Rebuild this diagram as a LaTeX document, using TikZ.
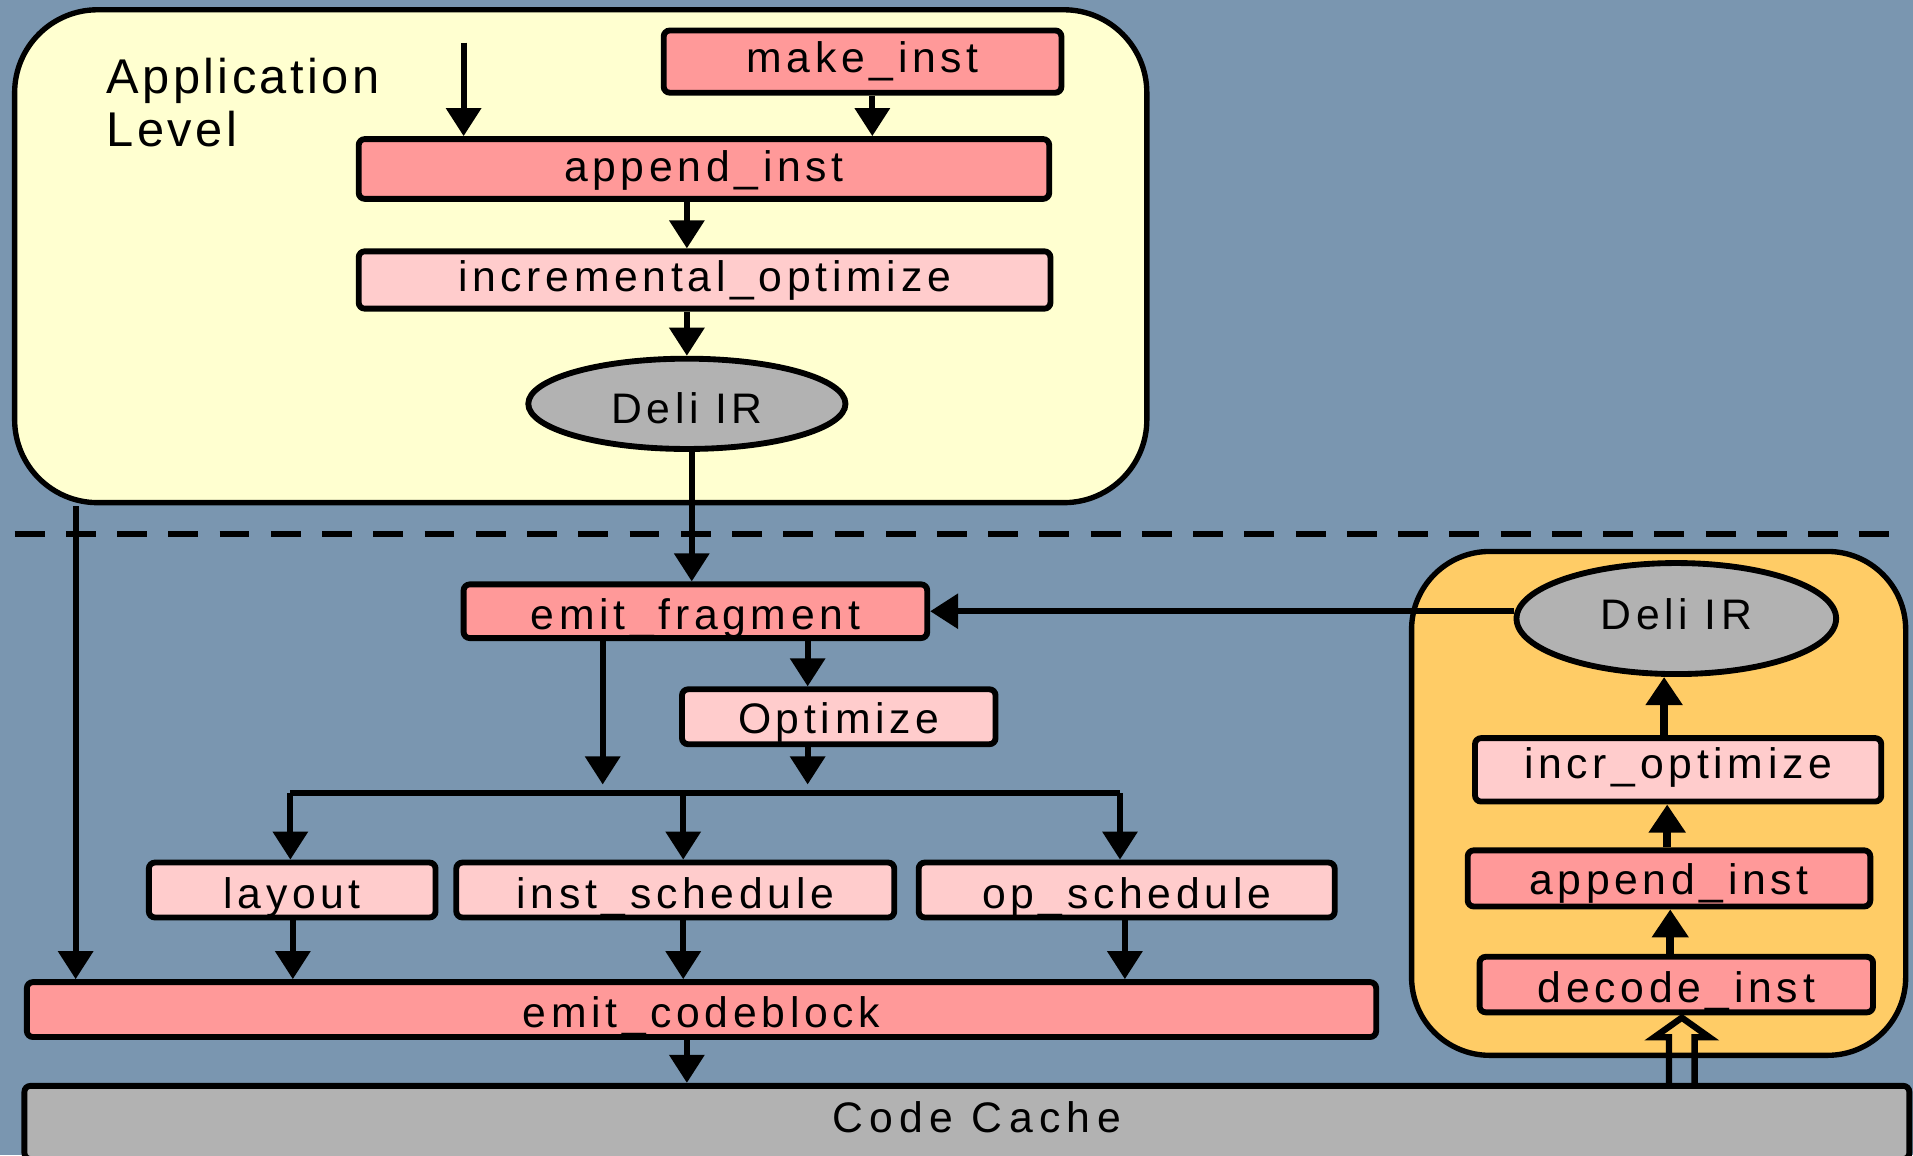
\documentclass[tikz,border=0pt]{standalone}
\usepackage{fontspec}
\setmainfont{Liberation Sans}
\newfontfamily\lblfont[LetterSpace=11]{Liberation Sans}
\newfontfamily\appfont[LetterSpace=7]{Liberation Sans}
\newfontfamily\cachefont[LetterSpace=15]{Liberation Sans}
\usetikzlibrary{arrows.meta,shapes.geometric}

\definecolor{slate}{RGB}{122,150,176}
\definecolor{paleyellow}{RGB}{255,255,208}
\definecolor{amber}{RGB}{255,204,102}
\definecolor{salmon}{RGB}{255,153,153}
\definecolor{blush}{RGB}{255,204,204}
\definecolor{irgray}{RGB}{178,178,178}

\begin{document}
\begin{tikzpicture}[x=0.5pt,y=-0.5pt,
  container/.style={draw, line width=2.2pt, inner sep=0pt},
  % baseline sits #1 px below the node centre
  lift/.style={text height=#1pt, text depth=0pt},
  fnbox/.style={draw, line width=2.4pt, rectangle, rounded corners=2.5pt, inner sep=0pt,
    font=\lblfont\fontsize{17.5}{21}\selectfont},
  hot/.style={fnbox, fill=salmon},
  soft/.style={fnbox, fill=blush},
  irnode/.style={draw, line width=2.4pt, ellipse, fill=irgray, inner sep=0pt,
    font=\lblfont\fontsize{17.5}{21}\selectfont},
  arr/.style={line width=2.45pt, -{Triangle[width=14pt,length=11.5pt]}},
  uparr/.style={line width=3.1pt, -{Triangle[width=14.5pt,length=11.5pt]}},
  plain/.style={line width=2.45pt}]

% page and background
\useasboundingbox (0,0) rectangle (1568,947);
\clip (0,0) rectangle (1568,947);
\fill[slate] (0,0) rectangle (1568,947);

% application-level region
\node[container, fill=paleyellow, rounded corners=34pt,
      minimum width=464pt, minimum height=202pt] (app) at (476,210) {};
\node[anchor=base west, align=left, inner sep=0pt,
      font=\appfont\fontsize{20}{21.75}\selectfont] (applbl) at (87,120) {Application\\Level};

\node[hot,  lift=9,    minimum width=163pt,   minimum height=25.5pt] (make)   at (707,50.5)  {make\_inst};
\node[hot,  lift=10.5, minimum width=283pt,   minimum height=24.5pt] (append) at (577,138.5) {append\_inst};
\node[soft, lift=9.5,  minimum width=283.5pt, minimum height=23.5pt] (incopt) at (577.5,229.5) {incremental\_optimize};
\node[irnode, lift=16, minimum width=130pt, minimum height=37pt] (ir) at (563,331) {Deli IR};

% boundary between levels
\draw[line width=2.5pt, dash pattern=on 12.25pt off 8.75pt] (12,438) -- (1560,438);

% decoder region
\node[container, fill=amber, rounded corners=32pt,
      minimum width=202.5pt, minimum height=206.5pt] (dec) at (1359.5,658.5) {};
\node[irnode, lift=9, minimum width=131pt, minimum height=45.5pt] (ir2) at (1374,507) {Deli IR};
\node[soft, lift=7,  minimum width=166.5pt, minimum height=26pt]   (incr)    at (1375.5,631) {incr\_optimize};
\node[hot,  lift=13, minimum width=165pt,   minimum height=23pt]   (append2) at (1368,720)   {append\_inst};
\node[hot,  lift=15, minimum width=161.25pt,minimum height=22.75pt](decode)  at (1374,807)   {decode\_inst};

% code generation
\node[hot,  lift=15,   minimum width=190pt,   minimum height=22pt]   (frag)   at (570,501)   {emit\_fragment};
\node[soft, lift=13.5, minimum width=128.5pt, minimum height=22.5pt] (opt)    at (687.5,587.5) {Optimize};
\node[soft, lift=15.5, minimum width=117.5pt, minimum height=22.5pt] (layout) at (239.5,729.5) {layout};
\node[soft, lift=15.5, minimum width=179.5pt, minimum height=22.5pt] (isched) at (553.5,729.5) {inst\_schedule};
\node[soft, lift=15.5, minimum width=170.5pt, minimum height=22.5pt] (osched) at (923.5,729.5) {op\_schedule};
\node[hot,  lift=14.5, minimum width=553pt,   minimum height=22.5pt] (cblock) at (575,827.5) {emit\_codeblock};
\node[fnbox, lift=8, fill=irgray, minimum width=772.5pt, minimum height=30pt,
      font=\cachefont\fontsize{17.5}{20}\selectfont] (cache) at (792.5,920) {\hspace*{8pt}Code Cache};

% application-level flow
\coordinate (entry) at (380,35);
\draw[arr] (entry) -- (entry |- append.north);
\coordinate (m1) at (715,0);
\draw[arr] (m1 |- make.south) -- (m1 |- append.north);
\coordinate (m2) at (563,0);
\draw[arr] (m2 |- append.south) -- (m2 |- incopt.north);
\draw[arr] (m2 |- incopt.south) -- (m2 |- ir.north);
\coordinate (m3) at (567,0);
\draw[arr] (m3 |- ir.south) -- (m3 |- frag.north);
\coordinate (bypass) at (62,415);
\draw[arr] (bypass) -- (bypass |- cblock.north);

% fragment emission and scheduling fan-out
\draw[arr] (ir2.west |- frag.east) -- (frag.east);
\coordinate (f1) at (494,0);
\coordinate (f2) at (662,0);
\coordinate (bus) at (0,650);
\draw[arr] (f2 |- frag.south) -- (f2 |- opt.north);
\draw[arr] (f1 |- frag.south) -- ([yshift=3.5pt]f1 |- bus);
\draw[arr] (f2 |- opt.south) -- ([yshift=3.5pt]f2 |- bus);
\coordinate (b1) at (238,650);
\coordinate (b2) at (560,650);
\coordinate (b3) at (918,650);
\draw[plain] (b1) -- (b3);
\draw[arr] (b1) -- (b1 |- layout.north);
\draw[arr] (b2) -- (b2 |- isched.north);
\draw[arr] (b3) -- (b3 |- osched.north);
\coordinate (c1) at (240,0);
\coordinate (c2) at (560,0);
\coordinate (c3) at (922,0);
\draw[arr] (c1 |- layout.south) -- (c1 |- cblock.north);
\draw[arr] (c2 |- isched.south) -- (c2 |- cblock.north);
\draw[arr] (c3 |- osched.south) -- (c3 |- cblock.north);
\coordinate (c4) at (563,0);
\draw[arr] (c4 |- cblock.south) -- (c4 |- cache.north);

% decoder flow
\coordinate (u1) at (1369,0);
\coordinate (u2) at (1366.5,0);
\coordinate (u3) at (1364,0);
\draw[uparr] (u1 |- decode.north) -- (u1 |- append2.south);
\draw[uparr] (u2 |- append2.north) -- (u2 |- incr.south);
\draw[uparr] (u3 |- incr.north) -- (u3 |- ir2.south);

% hollow arrow from the code cache into the decoder
\coordinate (h) at (1378.5,0);
\draw[line width=2.6pt, line join=miter]
  ([xshift=-5.25pt]h |- cache.north) -- ([xshift=-5.25pt,yshift=-9pt]h |- decode.south)
  -- ([xshift=-11.25pt,yshift=-9pt]h |- decode.south) -- ([yshift=-1pt]h |- decode.south)
  -- ([xshift=11.25pt,yshift=-9pt]h |- decode.south) -- ([xshift=5.25pt,yshift=-9pt]h |- decode.south)
  -- ([xshift=5.25pt]h |- cache.north);
\end{tikzpicture}
\end{document}
